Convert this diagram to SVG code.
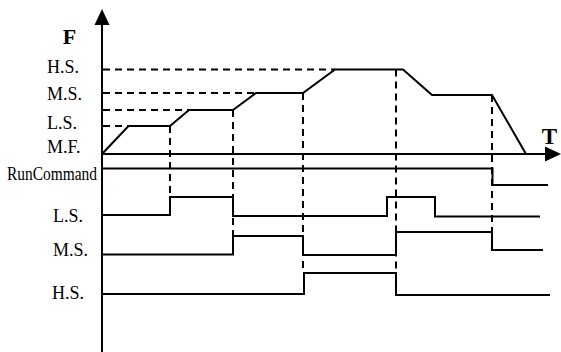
<svg xmlns="http://www.w3.org/2000/svg" width="561" height="352" viewBox="0 0 561 352">
<style>
.ln{fill:none;stroke:#000;stroke-width:2;stroke-linejoin:miter;stroke-linecap:butt}
.ds{fill:none;stroke:#000;stroke-width:2;stroke-dasharray:7 5}
.lb{font-family:"Liberation Serif","Times New Roman",serif;font-size:18px;fill:#000}
.bd{font-family:"Liberation Serif","Times New Roman",serif;font-weight:bold;fill:#000}
</style>
<rect width="561" height="352" fill="#fff"/>
<g id="axes">
<line class="ln" x1="102" y1="22" x2="102" y2="352"/>
<polygon points="102,9 94.5,25 109.5,25" fill="#000"/>
<line class="ln" x1="102" y1="154" x2="548" y2="154"/>
<polygon points="561,154 545,146.5 545,161.5" fill="#000"/>
<text class="bd" x="69.5" y="44" font-size="22" text-anchor="middle">F</text>
<text class="bd" x="549.5" y="144" font-size="23" text-anchor="middle">T</text>
</g>
<g id="guides">
<line class="ds" x1="103" y1="69.5" x2="335" y2="69.5"/>
<line class="ds" x1="103" y1="93" x2="256" y2="93"/>
<line class="ds" x1="103" y1="110" x2="189" y2="110"/>
<line class="ds" x1="103" y1="126" x2="128" y2="126"/>
<line class="ds" x1="170" y1="126" x2="170" y2="198"/>
<line class="ds" x1="233" y1="110" x2="233" y2="236"/>
<line class="ds" x1="303" y1="93" x2="303" y2="273"/>
<line class="ds" x1="396" y1="69.5" x2="396" y2="295"/>
<line class="ds" x1="492" y1="95" x2="492" y2="250"/>
</g>
<g id="frequency-curve">
<polyline class="ln" points="102,154 128.5,126 170,126 189,110 233,110 256,93 303,93 335,69.5 403,69.5 432,95 492,95 526,154"/>
</g>
<g id="signal-run">
<polyline class="ln" points="102,168.5 492.5,168.5 492.5,185 548,185"/>
</g>
<g id="signal-ls">
<polyline class="ln" points="102,215 170,215 170,197 233,197 233,216 387,216 387,197 435,197 435,216.5 540,216.5"/>
</g>
<g id="signal-ms">
<polyline class="ln" points="102,254.5 233,254.5 233,236 303,236 303,255 396,255 396,232 492,232 492,250 543,250"/>
</g>
<g id="signal-hs">
<polyline class="ln" points="102,294 304,294 304,273 396,273 396,295 550,295"/>
</g>
<g id="labels">
<text class="lb" x="47" y="73" font-size="19">H.S.</text>
<text class="lb" x="47" y="100" font-size="19">M.S.</text>
<text class="lb" x="47" y="129">L.S.</text>
<text class="lb" x="47" y="153">M.F.</text>
<text class="lb" x="7" y="180" font-size="17" textLength="90" lengthAdjust="spacingAndGlyphs">RunCommand</text>
<text class="lb" x="53" y="222">L.S.</text>
<text class="lb" x="53" y="256">M.S.</text>
<text class="lb" x="52" y="299">H.S.</text>
</g>
</svg>
